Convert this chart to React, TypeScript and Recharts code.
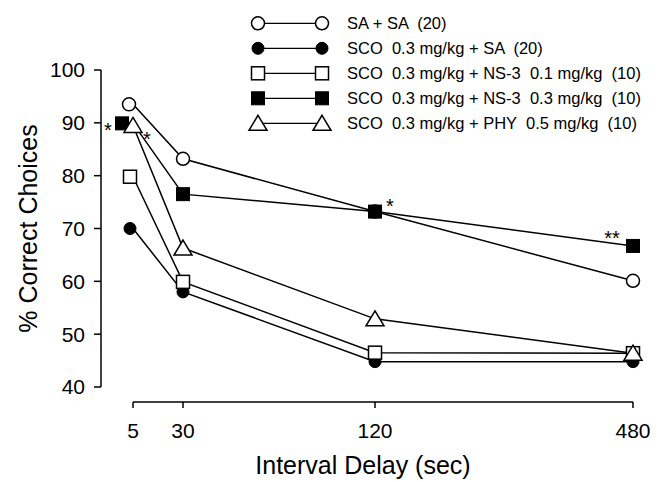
import React from 'react';
import { LineChart, Line, XAxis, YAxis, Legend, LabelList } from 'recharts';

// ---------- data ----------
const delays = [5, 30, 120, 480];
const saSa = [93.5, 83.2, 73.2, 60.1];
const scoSa = [70.0, 58.0, 44.8, 44.8];
const ns3Low = [79.8, 59.9, 46.5, 46.4];
const ns3High = [89.9, 76.5, 73.2, 66.7];
const phy = [89.5, 66.3, 52.9, 46.4];
const ns3HighSig = ['*', '', '*', '**'];
const phySig = ['*', '', '', ''];
const yTicks = [40, 50, 60, 70, 80, 90, 100];

const seriesNames = [
  'SA + SA  (20)',
  'SCO  0.3 mg/kg + SA  (20)',
  'SCO  0.3 mg/kg + NS-3  0.1 mg/kg  (10)',
  'SCO  0.3 mg/kg + NS-3  0.3 mg/kg  (10)',
  'SCO  0.3 mg/kg + PHY  0.5 mg/kg  (10)',
];

const rows = delays.map((d, i) => ({
  delay: d,
  saSa: saSa[i],
  scoSa: scoSa[i],
  ns3Low: ns3Low[i],
  ns3High: ns3High[i],
  phy: phy[i],
  ns3HighSig: ns3HighSig[i],
  phySig: phySig[i],
}));

// ---------- broken (non-uniform) x scale: delay -> axis slot ----------
const delaySlot: Record<number, number> = { 5: 0, 30: 50, 120: 242, 480: 500 };

const FONT = '"Liberation Sans", Arial, Helvetica, sans-serif';
const MAIN = 1;
const SPACER = 0;

type Shape = 'circleOpen' | 'circleFilled' | 'squareOpen' | 'squareFilled' | 'triangleOpen';

const series: { key: string; shape: Shape }[] = [
  { key: 'saSa', shape: 'circleOpen' },
  { key: 'scoSa', shape: 'circleFilled' },
  { key: 'ns3Low', shape: 'squareOpen' },
  { key: 'ns3High', shape: 'squareFilled' },
  { key: 'phy', shape: 'triangleOpen' },
];

// small horizontal marker jitter (style only) so overlapping symbols stay visible
const markerJitter: Record<string, Record<number, number>> = {
  saSa: { 0: -4 },
  scoSa: { 0: -3 },
  ns3Low: { 0: -3 },
  ns3High: { 0: -11 },
};

function Marker({ cx, cy, shape }: { cx: number; cy: number; shape: Shape }) {
  if (cx == null || cy == null) return null;
  switch (shape) {
    case 'circleOpen':
      return <circle cx={cx} cy={cy} r={6.5} fill="#fff" stroke="#000" strokeWidth={1.5} />;
    case 'circleFilled':
      return <circle cx={cx} cy={cy} r={6} fill="#000" stroke="#000" strokeWidth={1} />;
    case 'squareOpen':
      return <rect x={cx - 6.5} y={cy - 6.5} width={13} height={13} fill="#fff" stroke="#000" strokeWidth={1.5} />;
    case 'squareFilled':
      return <rect x={cx - 6.5} y={cy - 6.5} width={13} height={13} fill="#000" stroke="#000" strokeWidth={1} />;
    case 'triangleOpen':
      return (
        <polygon
          points={`${cx},${cy - 8} ${cx + 9},${cy + 7} ${cx - 9},${cy + 7}`}
          fill="#fff"
          stroke="#000"
          strokeWidth={1.5}
        />
      );
  }
  return null;
}

// offsets of significance stars relative to their point (style only)
const sigOffsets: Record<string, Record<number, [number, number]>> = {
  ns3High: { 0: [-25, 14], 2: [15, 1.5], 3: [-21, -1] },
  phy: { 0: [14, 20.5] },
};

const makeSig = (seriesKey: string) => (p: any) => {
  const { x, y, value, index } = p;
  if (!value) return null;
  const off = sigOffsets[seriesKey]?.[index] ?? [0, -10];
  return (
    <text
      key={`${seriesKey}-sig-${index}`}
      x={x + off[0]}
      y={y + off[1]}
      textAnchor="middle"
      fontSize={20}
      fontFamily={FONT}
      fill="#000"
    >
      {value}
    </text>
  );
};

function LegendBox() {
  return (
    <svg width={660} height={140} style={{ display: 'block' }}>
      {series.map((s, i) => {
        const y = 23.3 + 25 * i;
        return (
          <g key={s.key}>
            <line x1={258} y1={y} x2={322} y2={y} stroke="#000" strokeWidth={1.2} />
            <Marker cx={258} cy={y} shape={s.shape} />
            <Marker cx={322} cy={y} shape={s.shape} />
            <text
              x={347}
              y={y + 5.5}
              fontSize={16.5}
              fontFamily={FONT}
              fill="#000"
              style={{ whiteSpace: 'pre' }}
            >
              {seriesNames[i]}
            </text>
          </g>
        );
      })}
    </svg>
  );
}

export default function App() {
  return (
    <div style={{ position: 'absolute', left: 0, top: 0, width: 660, height: 482, background: '#fff' }}>
      <LineChart
        width={660}
        height={482}
        data={rows}
        margin={{ top: 70, right: 27, bottom: 0, left: 0 }}
      >
        <XAxis
          xAxisId={SPACER}
          type="number"
          domain={[0, 1]}
          height={15}
          axisLine={false}
          tickLine={false}
          tick={false}
        />
        <XAxis
          xAxisId={MAIN}
          type="number"
          dataKey={(r: any) => delaySlot[r.delay]}
          domain={[0, 500]}
          ticks={delays.map((d) => delaySlot[d])}
          tickFormatter={(_v: any, i: number) => String(delays[i])}
          height={80}
          tickSize={6}
          tickMargin={15}
          axisLine={{ stroke: '#000', strokeWidth: 1.5 }}
          tickLine={{ stroke: '#000', strokeWidth: 1.5 }}
          tick={{ fontSize: 21, fill: '#000', fontFamily: FONT }}
          label={{
            content: (p: any) => {
              const vb = p.viewBox;
              return (
                <text
                  x={vb.x + vb.width / 2 - 20}
                  y={474}
                  textAnchor="middle"
                  fontSize={25}
                  fontFamily={FONT}
                  fill="#000"
                >
                  Interval Delay (sec)
                </text>
              );
            },
          }}
        />
        <YAxis
          yAxisId={SPACER}
          type="number"
          domain={[0, 1]}
          width={32}
          axisLine={false}
          tickLine={false}
          tick={false}
        />
        <YAxis
          yAxisId={MAIN}
          type="number"
          domain={[40, 100]}
          ticks={yTicks}
          width={101}
          tickSize={7}
          tickMargin={9}
          axisLine={{ stroke: '#000', strokeWidth: 1.5 }}
          tickLine={{ stroke: '#000', strokeWidth: 1.5 }}
          tick={{ fontSize: 21, fill: '#000', fontFamily: FONT }}
          label={{
            content: (p: any) => {
              const vb = p.viewBox;
              const cy = vb.y + vb.height / 2;
              return (
                <text
                  x={37}
                  y={cy}
                  transform={`rotate(-90, 37, ${cy})`}
                  textAnchor="middle"
                  fontSize={25}
                  fontFamily={FONT}
                  fill="#000"
                >
                  % Correct Choices
                </text>
              );
            },
          }}
        />
        {series.map((s) => (
          <Line
            key={s.key}
            xAxisId={MAIN}
            yAxisId={MAIN}
            dataKey={s.key}
            stroke="#000"
            strokeWidth={1.5}
            isAnimationActive={false}
            dot={(p: any) => (
              <g key={`${s.key}-dot-${p.index}`}>
                <Marker
                  cx={p.cx + (markerJitter[s.key]?.[p.index] ?? 0)}
                  cy={p.cy}
                  shape={s.shape}
                />
              </g>
            )}
            activeDot={false}
          >
            {s.key === 'ns3High' && (
              <LabelList dataKey="ns3HighSig" content={makeSig('ns3High')} />
            )}
            {s.key === 'phy' && <LabelList dataKey="phySig" content={makeSig('phy')} />}
          </Line>
        ))}
        <Legend
          layout="horizontal"
          verticalAlign="middle"
          align="center"
          content={() => <LegendBox />}
          wrapperStyle={{ position: 'absolute', left: 0, top: 0, width: 660, height: 140, margin: 0 }}
        />
      </LineChart>
    </div>
  );
}
